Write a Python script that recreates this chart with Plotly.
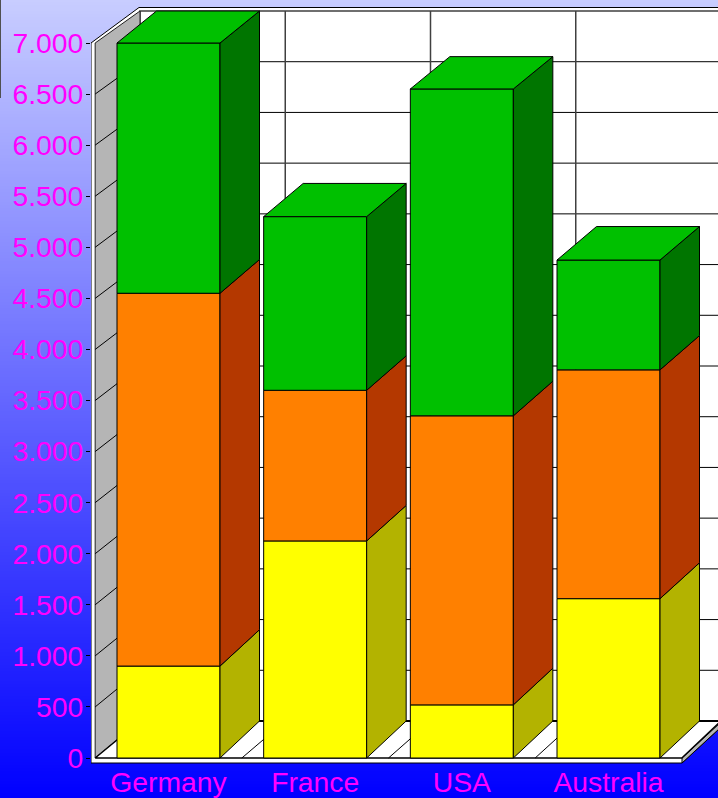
import numpy as np
import plotly.graph_objects as go

categories = ["Germany", "France", "USA", "Australia"]
yellow = [900, 2125, 520, 1560]
orange = [3650, 1475, 2830, 2240]
green = [2450, 1700, 3200, 1075]
y_ticks = list(range(0, 7001, 500))

series = [
    (yellow, "#FFFF00", "#B3B300", "#B3B300"),
    (orange, "#FF8000", "#B43800", "#B43800"),
    (green, "#00C000", "#007500", "#00C000"),
]

W, H = 718, 798
PX_X = 146.67   # px per category
PX_Y = 715 / 7000  # px per value
X0_PX, Y0_PX = 168.5, 758
L, R, T, B = 91, 718, 5, 768


def vx(px):
    return (px - X0_PX) / PX_X


def vy(py):
    return (Y0_PX - py) / PX_Y


BAR_W = 103 / PX_X
BAR_DX = 39.5 / PX_X
BACK_BASE = vy(721)
BACK_K = (vy(11) - vy(721)) / 7000


def back_v(v):
    return BACK_BASE + v * BACK_K


def wall_x(x):
    return vx(140) + (x + 0.5) * (145.25 / PX_X)


fig = go.Figure()

# page gradient
fig.add_trace(go.Heatmap(
    x=[0, 1], y=np.linspace(0, 1, 256), z=[[v, v] for v in np.linspace(0, 1, 256)],
    colorscale=[[0, "rgb(0,0,255)"], [1, "rgb(200,205,255)"]], zmin=0, zmax=1,
    showscale=False, hoverinfo="skip", xaxis="x", yaxis="y",
))


def poly(xs, ys, fill, line="#000000", lw=1, axes=("x2", "y2")):
    fig.add_trace(go.Scatter(
        x=xs, y=ys, mode="lines", fill="toself", fillcolor=fill,
        line=dict(color=line, width=lw), hoverinfo="skip", showlegend=False,
        xaxis=axes[0], yaxis=axes[1],
    ))


def lines(segs, color, lw, axes=("x2", "y2")):
    xs, ys = [], []
    for (a, b), (c, d) in segs:
        xs += [a, c, None]
        ys += [b, d, None]
    fig.add_trace(go.Scatter(
        x=xs, y=ys, mode="lines", line=dict(color=color, width=lw),
        hoverinfo="skip", showlegend=False, xaxis=axes[0], yaxis=axes[1],
    ))


XF0, XF1 = -0.5, len(categories) - 0.5
# outer slab
poly([vx(91), vx(139), vx(740), vx(740), vx(682), vx(91), vx(91)],
     [vy(43), vy(7.5), vy(7.5), vy(709.6), vy(763), vy(763), vy(43)], "#FFFFFF")
# slab side
poly([vx(682), vx(740), vx(740), vx(682), vx(682)],
     [vy(758), vy(704.6), vy(709.6), vy(763), vy(758)], "#B5B5B5")
# back wall
poly([wall_x(XF0), wall_x(XF1) + 0.2, wall_x(XF1) + 0.2, wall_x(XF0), wall_x(XF0)],
     [back_v(0), back_v(0), back_v(7000), back_v(7000), back_v(0)], "#FFFFFF", "#404040", 1.5)
# left wall
poly([XF0, wall_x(XF0), wall_x(XF0), XF0, XF0],
     [0, back_v(0), back_v(7000), 7000, 0], "#B5B5B5", "#202020", 1)
# floor
poly([XF0, wall_x(XF0), wall_x(XF1), XF1, XF0],
     [0, back_v(0), back_v(0), 0, 0], "#FFFFFF", "#000000", 1.5)
# grid
lines([((wall_x(XF0), back_v(v)), (wall_x(XF1) + 0.2, back_v(v))) for v in y_ticks[1:-1]], "#000000", 1)
lines([((XF0, v), (wall_x(XF0), back_v(v))) for v in y_ticks[1:-1]], "#000000", 1)
lines([((b, back_v(0)), (b, back_v(7000))) for b in [wall_x(i + 0.5) for i in range(3)]], "#404040", 1.5)
lines([((i + 0.5, 0), (wall_x(i + 0.5), back_v(0))) for i in range(3)], "#000000", 1)
lines([((wall_x(XF0), back_v(0)), (wall_x(XF1), back_v(0)))], "#000000", 2)

# bars
xpos = list(range(len(categories)))
base = [0] * len(categories)
for values, front, side, top in series:
    fig.add_trace(go.Bar(
        x=xpos, y=values, base=base, width=BAR_W, marker=dict(color=front, line=dict(color="#000000", width=1)),
        hoverinfo="skip", showlegend=False, xaxis="x3", yaxis="y3",
    ))
    for i, v in enumerate(values):
        xr = i + BAR_W / 2
        lo, hi = base[i], base[i] + v
        poly([xr, xr + BAR_DX, xr + BAR_DX, xr, xr],
             [lo, back_v(lo), back_v(hi), hi, lo], side, axes=("x3", "y3"))
    base = [b + v for b, v in zip(base, values)]

for i, t in enumerate(base):
    xr = i + BAR_W / 2
    xl = i - BAR_W / 2
    poly([xl, xl + BAR_DX, xr + BAR_DX, xr, xl],
         [t, back_v(t), back_v(t), t, t], series[-1][3], axes=("x3", "y3"))

xrange = [vx(L), vx(R)]
yrange = [vy(B), vy(T)]
dom_x = [L / W, R / W]
dom_y = [1 - B / H, 1 - T / H]
font = dict(family="Liberation Sans", size=28.3, color="#FF00FF")

fig.update_layout(
    width=W, height=H, margin=dict(l=0, r=0, t=0, b=0, pad=0, autoexpand=False),
    paper_bgcolor="#0000FF", plot_bgcolor="rgba(0,0,0,0)",
    separators=",.", showlegend=False, barmode="overlay",
    xaxis=dict(domain=[0, 1], range=[0, 1], visible=False, fixedrange=True),
    yaxis=dict(domain=[0, 1], range=[0, 1], visible=False, fixedrange=True),
    xaxis2=dict(domain=dom_x, range=xrange, visible=False, anchor="y2"),
    yaxis2=dict(domain=dom_y, range=yrange, visible=False, anchor="x2"),
    xaxis3=dict(domain=dom_x, range=xrange, anchor="y3", tickmode="array", tickvals=xpos,
                ticktext=categories, tickfont=font, ticks="", showgrid=False,
                showline=False, zeroline=False, ticklabelstandoff=-5),
    yaxis3=dict(domain=dom_y, range=yrange, anchor="x3", tickmode="array", tickvals=y_ticks,
                tickformat=",.0f", tickfont=font, ticks="outside", ticklen=4, tickcolor="#000000",
                tickwidth=1, showgrid=False, showline=False, zeroline=False, ticklabelstandoff=-3),
    shapes=[dict(type="line", xref="paper", yref="paper", x0=0, x1=0, y0=1, y1=1 - 98 / H,
                 line=dict(color="#505050", width=2))],
)

fig.write_html("out.html", post_script="document.body.style.margin='0';",
               config={"displayModeBar": False})
